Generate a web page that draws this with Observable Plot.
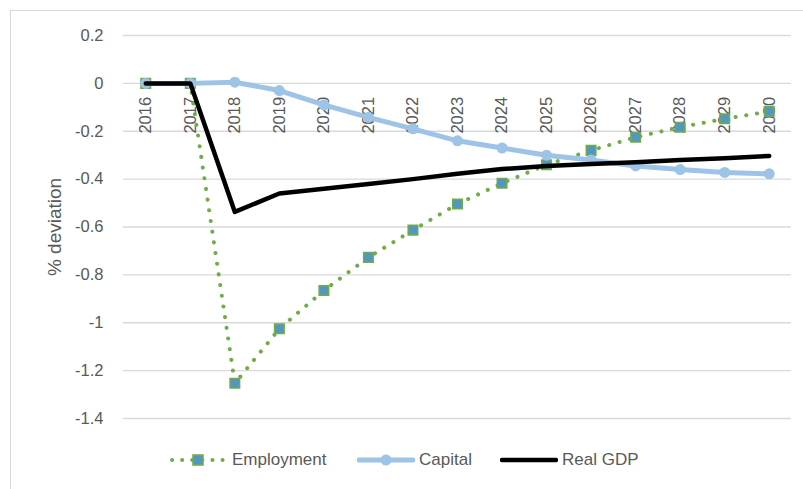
<!DOCTYPE html>
<html>
<head>
<meta charset="utf-8">
<script src="https://cdn.jsdelivr.net/npm/d3@7"></script>
<script src="https://cdn.jsdelivr.net/npm/@observablehq/plot@0.6"></script>
<style>
  html, body { margin: 0; padding: 0; background: #fff; overflow: hidden; }
  body { width: 803px; height: 489px; position: relative; font-family: "Liberation Sans", Arial, sans-serif; }
  #frame { position: absolute; left: 10px; top: 10px; width: 800px; height: 490px; border: 1px solid #d9d9d9; box-sizing: border-box; }
  #chart { position: absolute; left: 0; top: 0; }
  .item { position: absolute; top: 450px; height: 20px; display: flex; align-items: center; color: #595959; font-size: 17px; }
  .item svg { display: block; margin-right: 4px; }
</style>
</head>
<body>
<div id="frame"></div>
<div id="chart"></div>
<div id="legend"></div>
<script>
// Deviation from baseline, in percent, by year
const years = ["2016","2017","2018","2019","2020","2021","2022","2023","2024","2025","2026","2027","2028","2029","2030"];
const employment = [0, 0, -1.253, -1.025, -0.865, -0.727, -0.613, -0.504, -0.417, -0.34, -0.28, -0.225, -0.183, -0.148, -0.117];
const capital = [0, 0, 0.005, -0.03, -0.09, -0.142, -0.19, -0.24, -0.27, -0.30, -0.32, -0.345, -0.36, -0.372, -0.378];
const realGDP = [0, 0, -0.537, -0.46, -0.44, -0.42, -0.40, -0.378, -0.358, -0.345, -0.337, -0.33, -0.32, -0.313, -0.303];
const yTicks = [0.2, 0, -0.2, -0.4, -0.6, -0.8, -1, -1.2, -1.4];
const axisCross = 0; // the category labels hang from the zero line

const seriesNames = ["Employment", "Capital", "Real GDP"];
const colors = { employment: "#70ad47", employmentFill: "#5296c2", capital: "#9dc3e6", gdp: "#000000" };

const rows = years.map((year, i) => ({ year, employment: employment[i], capital: capital[i], gdp: realGDP[i] }));
const textColor = "#595959";

const chart = Plot.plot({
  width: 803,
  height: 440,
  marginLeft: 123,
  marginRight: 12,
  marginTop: 35,
  marginBottom: 22,
  style: { fontFamily: "Liberation Sans, Arial, sans-serif", color: textColor, background: "transparent" },
  x: { type: "point", domain: years, padding: 0.5, round: false, axis: null },
  y: { domain: [-1.4, 0.2], axis: null },
  marks: [
    Plot.ruleY(yTicks, { stroke: "#d9d9d9", strokeWidth: 1.3 }),
    Plot.axisY({ ticks: yTicks, tickSize: 0, tickPadding: 20, tickFormat: d => String(d), fontSize: 16.5, label: null }),
    Plot.text(["% deviation"], { frameAnchor: "left", textAnchor: "middle", rotate: -90, dx: -69, fontSize: 19, fill: textColor }),
    Plot.text(years, { x: d => d, y: () => axisCross, rotate: -90, textAnchor: "end", dy: 13.5, fontSize: 16.5, fill: textColor }),
    // Employment: dotted green line with square markers
    Plot.line(rows, { x: "year", y: "employment", stroke: colors.employment, strokeWidth: 4, strokeDasharray: "0.1 10.7", strokeLinecap: "round" }),
    Plot.dot(rows, { x: "year", y: "employment", symbol: "square", r: 5.4, fill: colors.employmentFill, stroke: colors.employment, strokeWidth: 1.5 }),
    // Capital: solid light blue line with round markers
    Plot.line(rows, { x: "year", y: "capital", stroke: colors.capital, strokeWidth: 5 }),
    Plot.dot(rows, { x: "year", y: "capital", r: 5.5, fill: colors.capital }),
    // Real GDP: solid black line
    Plot.line(rows, { x: "year", y: "gdp", stroke: colors.gdp, strokeWidth: 4.5 })
  ]
});
document.getElementById("chart").appendChild(chart);

// Legend below the chart
const legend = document.getElementById("legend");
const ns = "http://www.w3.org/2000/svg";
function swatch(kind) {
  const svg = document.createElementNS(ns, "svg");
  svg.setAttribute("width", 58);
  svg.setAttribute("height", 16);
  const line = document.createElementNS(ns, "line");
  line.setAttribute("x1", 2); line.setAttribute("x2", 56);
  line.setAttribute("y1", 8); line.setAttribute("y2", 8);
  if (kind === 0) {
    line.setAttribute("stroke", colors.employment);
    line.setAttribute("stroke-width", 4);
    line.setAttribute("stroke-linecap", "round");
    line.setAttribute("stroke-dasharray", "0.1 10");
    svg.appendChild(line);
    const sq = document.createElementNS(ns, "rect");
    sq.setAttribute("x", 23); sq.setAttribute("y", 3); sq.setAttribute("width", 10); sq.setAttribute("height", 10);
    sq.setAttribute("fill", colors.employmentFill); sq.setAttribute("stroke", colors.employment); sq.setAttribute("stroke-width", 1.5);
    svg.appendChild(sq);
  } else if (kind === 1) {
    line.setAttribute("stroke", colors.capital);
    line.setAttribute("stroke-width", 5);
    line.setAttribute("stroke-linecap", "round");
    svg.appendChild(line);
    const c = document.createElementNS(ns, "circle");
    c.setAttribute("cx", 29); c.setAttribute("cy", 8); c.setAttribute("r", 5.5);
    c.setAttribute("fill", colors.capital);
    svg.appendChild(c);
  } else {
    line.setAttribute("stroke", colors.gdp);
    line.setAttribute("stroke-width", 4.5);
    line.setAttribute("stroke-linecap", "round");
    svg.appendChild(line);
  }
  return svg;
}
const legendLeft = [170, 357, 500];
seriesNames.forEach((name, i) => {
  const item = document.createElement("div");
  item.className = "item";
  item.style.left = legendLeft[i] + "px";
  item.appendChild(swatch(i));
  const label = document.createElement("span");
  label.textContent = name;
  item.appendChild(label);
  legend.appendChild(item);
});
</script>
</body>
</html>
